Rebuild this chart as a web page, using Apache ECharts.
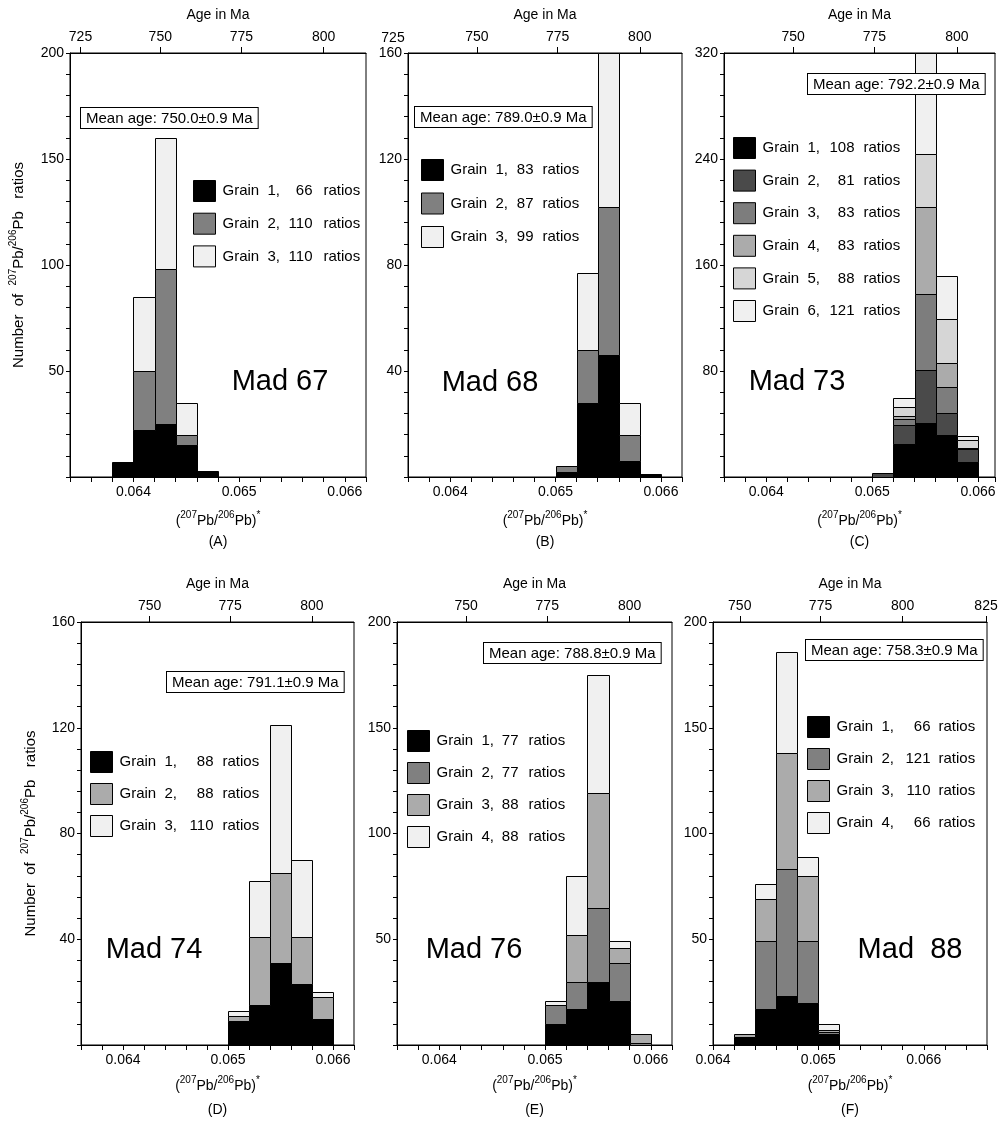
<!DOCTYPE html>
<html>
<head>
<meta charset="utf-8">
<title>Pb-Pb ratio histograms</title>
<script src="https://cdn.jsdelivr.net/npm/echarts@6/dist/echarts.min.js"></script>
<style>
  html, body { margin: 0; padding: 0; background: #fff; }
  #wrap { position: relative; width: 999px; height: 1122px; }
  .panel { position: absolute; left: 0; top: 0; width: 999px; height: 1122px; }
</style>
</head>
<body>
<div id="wrap">
  <div class="panel" id="pA"></div>
  <div class="panel" id="pB"></div>
  <div class="panel" id="pC"></div>
  <div class="panel" id="pD"></div>
  <div class="panel" id="pE"></div>
  <div class="panel" id="pF"></div>
</div>
<script>
// bin width of the (207Pb/206Pb)* histograms
var BIN = 0.0002;

// Mad 67 (A)
var binsA   = [0.0638, 0.0640, 0.0642, 0.0644, 0.0646];
var grain1A = [7, 22, 25, 15, 3];
var grain2A = [0, 28, 73, 5, 0];
var grain3A = [0, 35, 62, 15, 0];
var countsA = [66, 110, 110];

// Mad 68 (B)
var binsB   = [0.0650, 0.0652, 0.0654, 0.0656, 0.0658];
var grain1B = [2, 28, 46, 6, 1];
var grain2B = [2, 20, 56, 10, 0];
var grain3B = [0, 29, 58, 12, 0];
var countsB = [83, 87, 99];

// Mad 73 (C)
var binsC   = [0.0650, 0.0652, 0.0654, 0.0656, 0.0658];
var grain1C = [0, 25, 41, 32, 11];
var grain2C = [3, 14, 40, 16, 10];
var grain3C = [0, 5, 57, 20, 1];
var grain4C = [0, 2, 66, 18, 0];
var grain5C = [0, 7, 40, 33, 6];
var grain6C = [0, 7, 76, 33, 3];
var countsC = [108, 81, 83, 83, 88, 121];

// Mad 74 (D)
var binsD   = [0.0650, 0.0652, 0.0654, 0.0656, 0.0658];
var grain1D = [9, 15, 31, 23, 10];
var grain2D = [2, 26, 34, 18, 8];
var grain3D = [2, 21, 56, 29, 2];
var countsD = [88, 88, 110];

// Mad 76 (E)
var binsE   = [0.0650, 0.0652, 0.0654, 0.0656, 0.0658];
var grain1E = [10, 17, 30, 21, 0];
var grain2E = [9, 13, 35, 18, 1];
var grain3E = [0, 22, 54, 7, 4];
var grain4E = [2, 28, 56, 3, 0];
var countsE = [77, 77, 88, 88];

// Mad 88 (F)
var binsF   = [0.0642, 0.0644, 0.0646, 0.0648, 0.0650];
var grain1F = [4, 17, 23, 20, 5];
var grain2F = [0, 32, 60, 29, 1];
var grain3F = [1, 20, 55, 31, 1];
var grain4F = [0, 7, 48, 9, 3];
var countsF = [66, 121, 110, 66];

var meanAges    = ['750.0', '789.0', '792.2', '791.1', '788.8', '758.3'];
var sampleNames = ['Mad 67', 'Mad 68', 'Mad 73', 'Mad 74', 'Mad 76', 'Mad  88'];
var ageTicksA = [725, 750, 775, 800];
var ageTicksB = [750, 775, 800];
var ageTicksC = [750, 775, 800];
var ageTicksD = [750, 775, 800];
var ageTicksE = [750, 775, 800];
var ageTicksF = [750, 775, 800, 825];

var FONT = '"Liberation Sans", Arial, Helvetica, sans-serif';

// concordia age -> 207Pb/206Pb
var L238 = 1.55125e-10, L235 = 9.8485e-10, U_RATIO = 137.88;
function ratioOfAge(ma) {
  var t = ma * 1e6;
  return (Math.exp(L235 * t) - 1) / (Math.exp(L238 * t) - 1) / U_RATIO;
}

var measureCtx = document.createElement('canvas').getContext('2d');
function textWidth(s, px) {
  measureCtx.font = px + 'px ' + FONT;
  return measureCtx.measureText(s).width;
}

var supRich = {
  m: { fontSize: 14, fontFamily: FONT, color: '#000', lineHeight: 18, verticalAlign: 'bottom' },
  s: { fontSize: 10, fontFamily: FONT, color: '#000', lineHeight: 18, verticalAlign: 'top' }
};
var yRich = {
  m: { fontSize: 15, fontFamily: FONT, color: '#000', lineHeight: 18, verticalAlign: 'bottom' },
  s: { fontSize: 10, fontFamily: FONT, color: '#000', lineHeight: 18, verticalAlign: 'top' }
};
var xTitle = '{m|(}{s|207}{m|Pb/}{s|206}{m|Pb)}{s|*}';
var yTitle = '{m|Number  of  }{s|207}{m|Pb/}{s|206}{m|Pb   ratios}';

function buildSeries(bins, grains, colors) {
  var base = bins.map(function () { return 0; });
  return grains.map(function (vals, gi) {
    var data = [];
    bins.forEach(function (b, i) {
      if (vals[i] > 0) data.push([b, b + BIN, base[i], base[i] + vals[i]]);
      base[i] += vals[i];
    });
    var col = colors[gi];
    return {
      name: 'Grain ' + (gi + 1),
      type: 'custom',
      data: data,
      encode: { x: [0, 1], y: [2, 3] },
      itemStyle: { color: col },
      renderItem: function (params, api) {
        var tl = api.coord([api.value(0), api.value(3)]);
        var br = api.coord([api.value(1), api.value(2)]);
        var x0 = Math.round(tl[0]) + 0.5, x1 = Math.round(br[0]) + 0.5;
        var y0 = Math.round(tl[1]) + 0.5, y1 = Math.round(br[1]) + 0.5;
        return {
          type: 'rect',
          shape: { x: x0, y: y0, width: x1 - x0, height: y1 - y0 },
          style: { fill: col, stroke: '#000', lineWidth: 1 }
        };
      }
    };
  });
}

function makePanel(p) {
  var chart = echarts.init(document.getElementById(p.id));
  var names = p.grains.map(function (g, i) { return 'Grain ' + (i + 1); });
  var ageRatios = p.ages.map(ratioOfAge);
  var cx = p.left + p.width / 2;

  // legend text: number right-aligned in its column
  var legRich = {
    g: { fontSize: 15, fontFamily: FONT, color: '#000', padding: [0, 0, 0, 2] },
    r: { fontSize: 15, fontFamily: FONT, color: '#000' }
  };
  var gW = textWidth('Grain  1,', 15);
  p.counts.forEach(function (c, i) {
    var gap = p.numEnd - gW - textWidth(String(c), 15);
    legRich['n' + i] = { fontSize: 15, fontFamily: FONT, color: '#000', padding: [0, p.ratPad, 0, Math.max(0, gap)] };
  });

  var graphic = [
    { type: 'text', x: p.meanX, y: p.meanY, z: 100,
      style: { text: 'Mean age: ' + p.mean + '\u00b10.9 Ma', font: '15px ' + FONT, fill: '#000',
               backgroundColor: '#fff', borderColor: '#000', borderWidth: 1, padding: [3, 5, 2, 5] } },
    { type: 'text', x: p.madX, y: p.madY, z: 100,
      style: { text: p.sample, font: '29px ' + FONT, fill: '#000', align: 'center', verticalAlign: 'middle' } },
    { type: 'text', x: cx, y: p.letterY, z: 100,
      style: { text: '(' + p.letter + ')', font: '14px ' + FONT, fill: '#000', align: 'center', verticalAlign: 'middle' } }
  ];
  if (p.extra) graphic.push(p.extra);

  chart.setOption({
    animation: false,
    grid: { left: p.left, top: p.top, width: p.width, height: p.height, show: true,
            borderColor: '#000', borderWidth: 1, containLabel: false, outerBoundsMode: 'none' },
    xAxis: [{
      type: 'value', position: 'bottom', min: p.xMin, max: p.xMax, interval: BIN,
      axisLine: { show: true, onZero: false, lineStyle: { color: '#000', width: 1 } },
      axisTick: { show: true, length: 5, lineStyle: { color: '#000' } },
      axisLabel: { color: '#000', fontSize: 14, fontFamily: FONT, margin: 8,
                   showMinLabel: true, showMaxLabel: true,
                   formatter: function (v) {
                     var k = v * 1000;
                     return Math.abs(k - Math.round(k)) < 1e-6 ? (Math.round(k) / 1000).toFixed(3) : '';
                   } },
      splitLine: { show: false },
      name: xTitle, nameLocation: 'middle', nameGap: p.xNameGap,
      nameTextStyle: { rich: supRich }
    }, {
      type: 'value', position: 'top', min: p.xMin, max: p.xMax,
      axisLine: { show: true, onZero: false, lineStyle: { color: '#000', width: 1 } },
      axisTick: { show: true, length: 6, customValues: ageRatios, lineStyle: { color: '#000' } },
      axisLabel: { customValues: ageRatios, color: '#000', fontSize: 14, fontFamily: FONT, margin: 9,
                   formatter: function (v) {
                     var best = 0;
                     ageRatios.forEach(function (r, i) {
                       if (Math.abs(r - v) < Math.abs(ageRatios[best] - v)) best = i;
                     });
                     return String(p.ages[best]);
                   } },
      splitLine: { show: false },
      name: 'Age in Ma', nameLocation: 'middle', nameGap: 31,
      nameTextStyle: { color: '#000', fontSize: 14, fontFamily: FONT }
    }],
    yAxis: {
      type: 'value', min: 0, max: p.yMax, interval: p.yStep,
      axisLine: { show: true, lineStyle: { color: '#000', width: 1 } },
      axisTick: { show: true, length: 4, lineStyle: { color: '#000' } },
      axisLabel: { color: '#000', fontSize: 14, fontFamily: FONT, margin: 6, showMaxLabel: true,
                   formatter: function (v) { return (v > 0 && v % p.yLabelStep === 0) ? String(v) : ''; } },
      splitLine: { show: false },
      name: p.yName ? yTitle : '', nameLocation: 'middle', nameGap: p.yNameGap || 44,
      nameTextStyle: { rich: yRich }
    },
    legend: {
      orient: 'vertical', left: p.legLeft, top: p.legTop, itemWidth: 22, itemHeight: 21,
      itemGap: p.legGap, icon: 'rect', selectedMode: false, padding: 0,
      data: names.map(function (n, i) {
        return { name: n, itemStyle: { color: p.colors[i], borderColor: '#000', borderWidth: 1 } };
      }),
      formatter: function (n) {
        var i = names.indexOf(n);
        return '{g|Grain  ' + (i + 1) + ',}{n' + i + '|' + p.counts[i] + '}{r|ratios}';
      },
      textStyle: { color: '#000', fontSize: 15, fontFamily: FONT, rich: legRich }
    },
    graphic: graphic,
    series: buildSeries(p.bins, p.grains, p.colors)
  });
}

var G2 = '#808080', G3 = '#ababab', LIGHT = '#f0f0f0';

makePanel({ id: 'pA', letter: 'A', sample: sampleNames[0], mean: meanAges[0],
  bins: binsA, grains: [grain1A, grain2A, grain3A], counts: countsA, colors: ['#000', G2, LIGHT],
  ages: ageTicksA, left: 70, top: 53, width: 296, height: 424, xMin: 0.0634, xMax: 0.0662,
  yMax: 200, yStep: 10, yLabelStep: 50, yName: true, yNameGap: 44, xNameGap: 33, letterY: 542,
  legLeft: 193, legTop: 180, legGap: 10.7, numEnd: 90, ratPad: 11,
  meanX: 81, meanY: 108, madX: 280, madY: 382 });

makePanel({ id: 'pB', letter: 'B', sample: sampleNames[1], mean: meanAges[1],
  bins: binsB, grains: [grain1B, grain2B, grain3B], counts: countsB, colors: ['#000', G2, LIGHT],
  ages: ageTicksB, left: 408, top: 53, width: 274, height: 424, xMin: 0.0636, xMax: 0.0662,
  yMax: 160, yStep: 8, yLabelStep: 40, xNameGap: 33, letterY: 542,
  legLeft: 421, legTop: 159, legGap: 11.5, numEnd: 83, ratPad: 9,
  meanX: 415, meanY: 107, madX: 490, madY: 383,
  extra: { type: 'text', x: 393, y: 38, style: { text: '725', font: '14px ' + FONT, fill: '#000', align: 'center', verticalAlign: 'middle' } } });

makePanel({ id: 'pC', letter: 'C', sample: sampleNames[2], mean: meanAges[2],
  bins: binsC, grains: [grain1C, grain2C, grain3C, grain4C, grain5C, grain6C], counts: countsC,
  colors: ['#000', '#4a4a4a', '#7d7d7d', '#ababab', '#d6d6d6', LIGHT],
  ages: ageTicksC, left: 724, top: 53, width: 271, height: 424, xMin: 0.0636, xMax: 0.06616,
  yMax: 320, yStep: 16, yLabelStep: 80, xNameGap: 33, letterY: 542,
  legLeft: 733, legTop: 137, legGap: 10.6, numEnd: 92, ratPad: 9,
  meanX: 808, meanY: 74, madX: 797, madY: 382 });

makePanel({ id: 'pD', letter: 'D', sample: sampleNames[3], mean: meanAges[3],
  bins: binsD, grains: [grain1D, grain2D, grain3D], counts: countsD, colors: ['#000', G3, LIGHT],
  ages: ageTicksD, left: 81, top: 622, width: 273, height: 423, xMin: 0.0636, xMax: 0.0662,
  yMax: 160, yStep: 8, yLabelStep: 40, yName: true, yNameGap: 43, xNameGap: 30, letterY: 1110,
  legLeft: 90, legTop: 751, legGap: 10, numEnd: 94, ratPad: 9,
  meanX: 167, meanY: 672, madX: 154, madY: 950 });

makePanel({ id: 'pE', letter: 'E', sample: sampleNames[4], mean: meanAges[4],
  bins: binsE, grains: [grain1E, grain2E, grain3E, grain4E], counts: countsE, colors: ['#000', G2, G3, LIGHT],
  ages: ageTicksE, left: 397, top: 622, width: 275, height: 423, xMin: 0.0636, xMax: 0.0662,
  yMax: 200, yStep: 10, yLabelStep: 50, xNameGap: 30, letterY: 1110,
  legLeft: 407, legTop: 730, legGap: 10, numEnd: 82, ratPad: 10,
  meanX: 484, meanY: 643, madX: 474, madY: 950 });

makePanel({ id: 'pF', letter: 'F', sample: sampleNames[5], mean: meanAges[5],
  bins: binsF, grains: [grain1F, grain2F, grain3F, grain4F], counts: countsF, colors: ['#000', G2, G3, LIGHT],
  ages: ageTicksF, left: 713, top: 622, width: 274, height: 423, xMin: 0.0640, xMax: 0.0666,
  yMax: 200, yStep: 10, yLabelStep: 50, xNameGap: 30, letterY: 1110,
  legLeft: 807, legTop: 716, legGap: 10, numEnd: 94, ratPad: 8,
  meanX: 806, meanY: 640, madX: 910, madY: 950 });
</script>
</body>
</html>
